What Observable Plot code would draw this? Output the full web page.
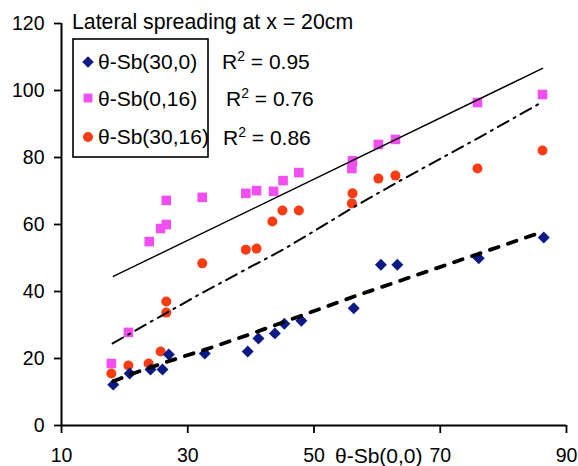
<!DOCTYPE html>
<html>
<head>
<meta charset="utf-8">
<script src="https://cdn.jsdelivr.net/npm/d3@7"></script>
<script src="https://cdn.jsdelivr.net/npm/@observablehq/plot@0.6"></script>
<style>
  html, body { margin: 0; padding: 0; background: #fff; }
  svg text { font-family: "Liberation Sans", Arial, sans-serif; }
</style>
</head>
<body>
<div id="chart"></div>
<script>
// ---- data ----
const xTicks = [10, 30, 50, 70, 90];
const yTicks = [0, 20, 40, 60, 80, 100, 120];

const seriesNames = ["θ-Sb(30,0)", "θ-Sb(0,16)", "θ-Sb(30,16)"];
const r2Labels = ["0.95", "0.76", "0.86"];
const xLabel = "θ-Sb(0,0)";
const titleText = "Lateral spreading at x = 20cm";

const blueX = [18.2, 20.8, 24.1, 26.0, 27.0, 32.7, 39.5, 41.2, 43.8, 45.3, 48.0, 56.3, 60.6, 63.2, 76.1, 86.4];
const blueY = [12.2, 15.5, 16.7, 16.7, 21.2, 21.5, 22.1, 26.0, 27.5, 30.4, 31.3, 35.0, 48.0, 48.0, 49.9, 56.1];

const pinkX = [17.9, 20.6, 23.9, 25.7, 26.6, 26.6, 32.3, 39.2, 40.9, 43.6, 45.1, 47.6, 56.0, 56.1, 60.2, 62.9, 75.9, 86.2];
const pinkY = [18.5, 27.8, 54.9, 58.8, 60.0, 67.2, 68.1, 69.3, 70.1, 69.9, 73.1, 75.5, 76.7, 79.0, 83.9, 85.4, 96.4, 98.8];

const redX = [17.9, 20.6, 23.8, 25.7, 26.6, 26.6, 32.3, 39.2, 40.9, 43.4, 45.0, 47.6, 56.0, 56.1, 60.2, 62.9, 75.9, 86.2];
const redY = [15.5, 17.9, 18.5, 22.1, 33.7, 37.0, 48.4, 52.5, 52.8, 60.9, 64.2, 64.2, 66.3, 69.3, 73.7, 74.6, 76.7, 82.1];

// fitted lines
const blueFitX = [18.2, 21, 27, 33, 39.5, 48, 56.5, 63, 76, 86.2];
const blueFitY = [13.2, 15.3, 19.2, 22.8, 27.0, 32.8, 38.6, 42.8, 51.2, 57.8];
const redFitX = [18.1, 26.8, 32.3, 39.2, 45.0, 50.0, 56.3, 63.0, 76.0, 86.2];
const redFitY = [24.5, 33.8, 39.6, 46.6, 52.4, 58.0, 65.2, 72.4, 85.8, 96.6];
const pinkFitX = [18.2, 86.2];
const pinkFitY = [44.5, 106.6];

const colors = { blue: "#0c1a86", pink: "#f04ef0", red: "#fa3c14" };

const pts = (xs, ys) => xs.map((x, i) => ({ x, y: ys[i] }));

const font = '"Liberation Sans", Arial, sans-serif';

const plot = Plot.plot({
  width: 578,
  height: 466,
  marginLeft: 61,
  marginRight: 12,
  marginTop: 23,
  marginBottom: 41,
  style: { fontFamily: font, fontSize: "19px", color: "#000", background: "#fff", overflow: "visible" },
  x: { domain: [10, 90] },
  y: { domain: [0, 120] },
  marks: [
    Plot.axisX({ ticks: xTicks, tickSize: 8, tickPadding: 15, strokeWidth: 1.8, fontSize: 19.5, label: null, tickFormat: d => d }),
    Plot.axisY({ ticks: yTicks, tickSize: 7, tickPadding: 10, strokeWidth: 1.8, fontSize: 19.5, label: null, tickFormat: d => d }),
    Plot.ruleX([10], { y1: 0, y2: 120, stroke: "#000", strokeWidth: 2 }),
    Plot.ruleY([0], { x1: 10, x2: 90, stroke: "#000", strokeWidth: 2 }),
    Plot.dot(pts(pinkX, pinkY), { x: "x", y: "y", symbol: "square", r: 5.4, fill: colors.pink, stroke: "none" }),
    Plot.dot(pts(redX, redY), { x: "x", y: "y", symbol: "circle", r: 5, fill: colors.red, stroke: "none" }),
    Plot.dot(pts(blueX, blueY), { x: "x", y: "y", symbol: "diamond2", r: 5.4, fill: colors.blue, stroke: "none" }),
    Plot.line(pts(pinkFitX, pinkFitY), { x: "x", y: "y", stroke: "#000", strokeWidth: 1.4 }),
    Plot.line(pts(redFitX, redFitY), { x: "x", y: "y", stroke: "#000", strokeWidth: 2, strokeDasharray: "12,6,2,6" }),
    Plot.line(pts(blueFitX, blueFitY), { x: "x", y: "y", stroke: "#000", strokeWidth: 3.8, strokeDasharray: "9,10" })
  ]
});

document.getElementById("chart").appendChild(plot);

// ---- title, x label and legend (annotations) ----
const svg = d3.select(plot);
const g = svg.append("g").attr("font-family", font).attr("fill", "#000").attr("text-anchor", "start");

g.append("text").attr("x", 72).attr("y", 29).attr("font-size", 21.3).text(titleText);
g.append("text").attr("x", 335).attr("y", 463).attr("font-size", 21).text(xLabel);

g.append("rect").attr("x", 73).attr("y", 39).attr("width", 135).attr("height", 118)
  .attr("fill", "none").attr("stroke", "#000").attr("stroke-width", 1.6);

const rows = [
  { cy: 62, base: 68.5, color: colors.blue, sym: d3.symbolDiamond2, size: Math.PI * 5.2 * 5.2, rx: 222 },
  { cy: 98, base: 105.5, color: colors.pink, sym: d3.symbolSquare, size: Math.PI * 5 * 5, rx: 226 },
  { cy: 137, base: 144, color: colors.red, sym: d3.symbolCircle, size: Math.PI * 5 * 5, rx: 223 }
];
rows.forEach((r, i) => {
  g.append("path").attr("d", d3.symbol(r.sym, r.size)()).attr("transform", `translate(88,${r.cy})`).attr("fill", r.color);
  g.append("text").attr("x", 98).attr("y", r.base).attr("font-size", 21).text(seriesNames[i]);
  const t = g.append("text").attr("x", r.rx).attr("y", r.base + 0.5).attr("font-size", 21);
  t.append("tspan").text("R");
  t.append("tspan").attr("font-size", 14).attr("dy", -8).text("2");
  t.append("tspan").attr("dy", 8).text(" = " + r2Labels[i]);
});
</script>
</body>
</html>
